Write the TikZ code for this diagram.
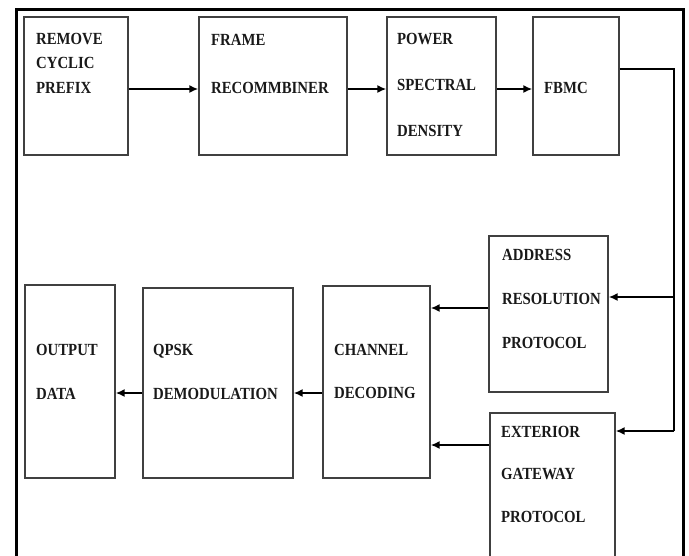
\documentclass[tikz,border=0pt]{standalone}
\usepackage{fontspec}
\setmainfont[FakeStretch=0.87]{Liberation Serif}
\usetikzlibrary{arrows.meta}

\tikzset{
  block/.style={draw=black!75, line width=1.3pt, inner sep=0pt},
  txt/.style={font=\fontsize{17}{#1}\selectfont\bfseries, align=left,
              anchor=north west, inner sep=0pt, text=black!90},
  txt/.default=44,
  flow/.style={line width=2.2pt, -{Latex[length=9pt,width=8pt]}},
  feed/.style={line width=1.4pt}
}

\begin{document}
\begin{tikzpicture}[x=1pt, y=-1pt]
                \clip (0,0) rectangle (689,555);
                
                % Outer frame (open at the bottom)
                \draw [line width=3pt] (16,570) -- (16,9) -- (683,9) -- (683,570);%
                
                % Upper row of blocks
                \node [block, minimum width=104pt, minimum height=138pt] (rcp) at (76,86) {};%
                \node [block, minimum width=148pt, minimum height=138pt] (frm) at (273,86) {};%
                \node [block, minimum width=109pt, minimum height=138pt] (psd) at (441.5,86) {};%
                \node [block, minimum width=86pt, minimum height=138pt] (fbmc) at (576,86) {};%
                
                % Protocol blocks
                \node [block, minimum width=119pt, minimum height=156pt] (arp) at (548.5,314) {};%
                \node [block, minimum width=125pt, minimum height=187pt] (egp) at (552.5,506.5) {};%
                
                % Lower row of blocks
                \node [block, minimum width=107pt, minimum height=192pt] (cd) at (376.5,382) {};%
                \node [block, minimum width=150pt, minimum height=190pt] (qpsk) at (218,383) {};%
                \node [block, minimum width=90pt, minimum height=193pt] (out) at (70,381.5) {};%
                
                % Block texts
                \node [txt=24.5] (rcpText) at (36,33) {REMOVE\\CYCLIC\\PREFIX};%
                \node [txt=48] (frmText) at (211,34) {FRAME\\RECOMMBINER};%
                \node [txt=46] (psdText) at (397,33) {POWER\\SPECTRAL\\DENSITY};%
                \node [txt] (fbmcText) at (544,82) {FBMC};%
                \node [txt=44] (arpText) at (502,249) {ADDRESS\\RESOLUTION\\PROTOCOL};%
                \node [txt=42.5] (egpText) at (501,426) {EXTERIOR\\GATEWAY\\PROTOCOL};%
                \node [txt=43.5] (cdText) at (334,344) {CHANNEL\\DECODING};%
                \node [txt=44] (qpskText) at (153,344) {QPSK\\DEMODULATION};%
                \node [txt=44] (outText) at (36,344) {OUTPUT\\DATA};%
                
                % Upper row arrows
                \draw [flow] (rcp.east |- 0,89) -- (frm.west |- 0,89);%
                \draw [flow] (frm.east |- 0,89) -- (psd.west |- 0,89);%
                \draw [flow] (psd.east |- 0,89) -- (fbmc.west |- 0,89);%
                
                % Feed from FBMC down the right side
                \coordinate (bend) at (674,69);%
                \coordinate (tapA) at (674,297);%
                \coordinate (tapB) at (674,431);%
                \draw [feed] (fbmc.east |- bend) -- (bend) -- (tapB);%
                \draw [flow, line width=1.8pt] (tapA) -- (arp.east |- tapA);%
                \draw [flow, line width=1.8pt] (tapB) -- (egp.east |- tapB);%
                
                % Protocols into channel decoding
                \draw [flow] (arp.west |- 0,308) -- (cd.east |- 0,308);%
                \draw [flow] (egp.west |- 0,445) -- (cd.east |- 0,445);%
                
                % Lower row arrows
                \draw [flow] (cd.west |- 0,393) -- (qpsk.east |- 0,393);%
                \draw [flow] (qpsk.west |- 0,393) -- (out.east |- 0,393);%
\end{tikzpicture}
\end{document}
